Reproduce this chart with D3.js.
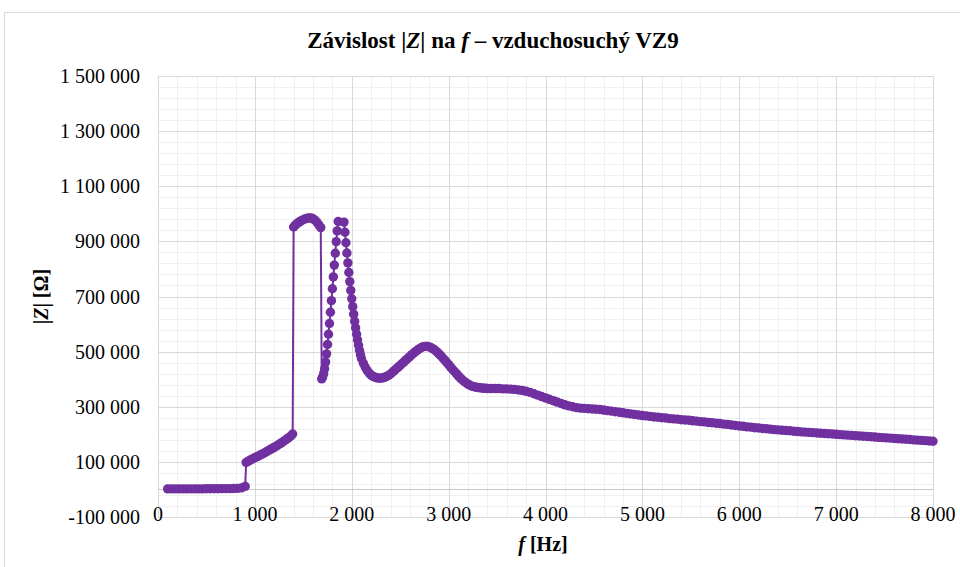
<!DOCTYPE html>
<html>
<head>
<meta charset="utf-8">
<script src="https://cdn.jsdelivr.net/npm/d3@7"></script>
<style>
  body { margin: 0; background: #fff; }
  text { white-space: pre; }
</style>
</head>
<body>
<svg></svg>
<script>
// frequency of each measurement [Hz]
const freqHz = [
  100, 140, 180, 220, 260, 300, 340, 380, 420, 460,
  500, 540, 580, 620, 660, 700, 740, 780, 820, 860,
  900,
  910, 930, 950, 970, 990, 1010, 1030, 1050, 1070, 1090,
  1110, 1130, 1150, 1170, 1190, 1210, 1230, 1250, 1270, 1290,
  1310, 1330, 1350, 1370, 1390,
  1400, 1420, 1440, 1460, 1480, 1500, 1520, 1540, 1560, 1580,
  1600, 1620, 1640, 1660, 1680,
  1690, 1700, 1710, 1720, 1730, 1740, 1750, 1760, 1770, 1780,
  1790, 1800, 1810, 1820, 1830, 1840, 1850, 1860,
  1920, 1930, 1940, 1950, 1960, 1970, 1980, 1990, 2000, 2010,
  2020, 2030, 2040, 2050, 2060, 2070, 2080, 2090, 2100,
  2120, 2140, 2160, 2180, 2200, 2220, 2240, 2260, 2280, 2300,
  2320, 2340, 2360, 2380, 2400, 2420, 2440, 2460, 2480, 2500,
  2520, 2540, 2560, 2580, 2600, 2620, 2640, 2660, 2680, 2700,
  2720, 2740, 2760, 2780, 2800, 2820, 2840, 2860, 2880, 2900,
  2920, 2940, 2960, 2980, 3000, 3020, 3040, 3060, 3080, 3100,
  3120, 3140, 3160, 3180, 3200, 3220, 3240, 3260, 3280, 3300,
  3320, 3340, 3360, 3380, 3400,
  3440, 3480, 3520, 3560, 3600, 3640, 3680, 3720, 3760, 3800,
  3840, 3880, 3920, 3960, 4000, 4040, 4080, 4120, 4160, 4200,
  4240, 4280, 4320, 4360, 4400, 4440, 4480, 4520, 4560, 4600,
  4640, 4680, 4720, 4760, 4800, 4840, 4880, 4920, 4960, 5000,
  5040, 5080, 5120, 5160, 5200, 5240, 5280, 5320, 5360, 5400,
  5440, 5480, 5520, 5560, 5600, 5640, 5680, 5720, 5760, 5800,
  5840, 5880, 5920, 5960, 6000, 6040, 6080, 6120, 6160, 6200,
  6240, 6280, 6320, 6360, 6400, 6440, 6480, 6520, 6560, 6600,
  6640, 6680, 6720, 6760, 6800, 6840, 6880, 6920, 6960, 7000,
  7040, 7080, 7120, 7160, 7200, 7240, 7280, 7320, 7360, 7400,
  7440, 7480, 7520, 7560, 7600, 7640, 7680, 7720, 7760, 7800,
  7840, 7880, 7920, 7960, 8000
]

// |Z| [Ohm], same order as freqHz
const impedance = [
  2000, 2000, 2000, 2000, 2000, 2000, 2000, 2000, 2000, 2000,
  2500, 2500, 2500, 2500, 3000, 3000, 3000, 3500, 4000, 5500,
  11000,
  98000, 102000, 106000, 110000, 113000, 117000, 120000, 124000, 127000, 131000,
  135000, 139000, 143000, 147000, 151000, 155000, 159000, 164000, 168000, 173000,
  178000, 183000, 188000, 194000, 201000,
  952000, 960000, 966000, 971000, 975000, 979000, 982000, 984000, 985000, 985000,
  982000, 977000, 970000, 960000, 950000,
  401000, 408000, 420000, 438000, 462000, 492000, 526000, 563000, 602000, 643000,
  685000, 728000, 771000, 814000, 857000, 899000, 938000, 972000,
  970000, 933000, 895000, 858000, 822000, 787000, 754000, 722000, 692000, 663000,
  636000, 610000, 586000, 563000, 542000, 523000, 505000, 489000, 475000,
  458000, 443000, 431000, 422000, 415000, 410000, 407000, 405000, 404000, 404000,
  405000, 407000, 410000, 414000, 419000, 425000, 431000, 438000, 444000, 450000,
  457000, 463000, 470000, 476000, 482000, 489000, 495000, 501000, 506000, 511000,
  515000, 518000, 519000, 519000, 517000, 514000, 510000, 505000, 499000, 492000,
  485000, 477000, 469000, 461000, 453000, 444000, 436000, 428000, 420000, 412000,
  405000, 398000, 392000, 387000, 382000, 378000, 375000, 373000, 371000, 370000,
  369000, 368000, 367000, 367000, 366000,
  366000, 366000, 366000, 365000, 365000, 364000, 363000, 361000, 359000, 356000,
  352000, 347000, 342000, 337000, 332000, 327000, 322000, 317000, 312000, 307000,
  303000, 300000, 297000, 295000, 294000, 293000, 292000, 291000, 290000, 288000,
  286000, 284000, 282000, 280000, 278000, 276000, 274000, 272000, 270000, 268000,
  267000, 265000, 263000, 262000, 260000, 259000, 257000, 256000, 255000, 253000,
  252000, 251000, 249000, 248000, 246000, 245000, 243000, 242000, 240000, 239000,
  237000, 236000, 234000, 232000, 230000, 229000, 227000, 226000, 224000, 223000,
  221000, 220000, 219000, 217000, 216000, 215000, 214000, 213000, 211000, 210000,
  209000, 208000, 207000, 206000, 205000, 204000, 203000, 202000, 201000, 200000,
  199000, 198000, 197000, 196000, 195000, 194000, 193000, 192000, 191000, 190000,
  189000, 188000, 187000, 186000, 185000, 184000, 183000, 182000, 181000, 180000,
  179000, 178000, 177000, 176000, 175000
]

const xTicks = [0, 1000, 2000, 3000, 4000, 5000, 6000, 7000, 8000]
const yTicks = [-100000, 100000, 300000, 500000, 700000, 900000, 1100000, 1300000, 1500000]

const width = 960
const height = 567
const plot = { left: 158, right: 933, top: 76, bottom: 517 }
const purple = '#7030a0'
const serif = 'Liberation Serif, Times New Roman, DejaVu Serif, serif'

const data = freqHz.map((f, i) => {
  return { f: f, z: impedance[i] }
})

const svg = d3.select('svg')
  .attr('width', width)
  .attr('height', height)
  .attr('font-family', serif)
  .style('display', 'block')

const x = d3.scaleLinear().domain([0, 8000]).range([plot.left, plot.right])
const y = d3.scaleLinear().domain([-100000, 1500000]).range([plot.bottom, plot.top])

const fmt = d3.formatLocale({
  decimal: ',',
  thousands: ' ',
  grouping: [3],
  currency: ['', ''],
  minus: '-'
}).format(',d')

// chart frame
svg.append('rect')
  .attr('x', 4.5)
  .attr('y', 12.5)
  .attr('width', 980)
  .attr('height', 580)
  .attr('fill', '#fff')
  .attr('stroke', '#d9d9d9')

// minor grid
const grid = svg.append('g')
grid.selectAll('.minor-x')
  .data(x.ticks(40))
  .enter().append('line')
  .attr('x1', (d) => Math.round(x(d)) + 0.5)
  .attr('x2', (d) => Math.round(x(d)) + 0.5)
  .attr('y1', plot.top)
  .attr('y2', plot.bottom)
  .attr('stroke', '#f0f0f0')
grid.selectAll('.minor-y')
  .data(d3.range(-100000, 1500001, 40000))
  .enter().append('line')
  .attr('x1', plot.left)
  .attr('x2', plot.right)
  .attr('y1', (d) => Math.round(y(d)) + 0.5)
  .attr('y2', (d) => Math.round(y(d)) + 0.5)
  .attr('stroke', '#f0f0f0')

// major grid
grid.selectAll('.major-x')
  .data(xTicks)
  .enter().append('line')
  .attr('x1', (d) => Math.round(x(d)) + 0.5)
  .attr('x2', (d) => Math.round(x(d)) + 0.5)
  .attr('y1', plot.top)
  .attr('y2', plot.bottom)
  .attr('stroke', '#d9d9d9')
grid.selectAll('.major-y')
  .data(yTicks)
  .enter().append('line')
  .attr('x1', plot.left)
  .attr('x2', plot.right)
  .attr('y1', (d) => Math.round(y(d)) + 0.5)
  .attr('y2', (d) => Math.round(y(d)) + 0.5)
  .attr('stroke', '#d9d9d9')

// horizontal axis line at zero
svg.append('line')
  .attr('x1', plot.left)
  .attr('x2', plot.right)
  .attr('y1', Math.round(y(0)) + 0.5)
  .attr('y2', Math.round(y(0)) + 0.5)
  .attr('stroke', '#c8c8c8')

// tick labels
svg.append('g')
  .selectAll('text')
  .data(yTicks)
  .enter().append('text')
  .attr('x', 140)
  .attr('y', (d) => y(d))
  .attr('dy', '0.35em')
  .attr('text-anchor', 'end')
  .attr('font-size', 20)
  .attr('fill', '#000')
  .text((d) => fmt(d))

svg.append('g')
  .selectAll('text')
  .data(xTicks)
  .enter().append('text')
  .attr('x', (d) => x(d))
  .attr('y', 521)
  .attr('text-anchor', 'middle')
  .attr('font-size', 20)
  .attr('fill', '#000')
  .text((d) => fmt(d))

// series line and markers
const line = d3.line()
  .x((d) => x(d.f))
  .y((d) => y(d.z))

svg.append('path')
  .datum(data)
  .attr('d', line)
  .attr('fill', 'none')
  .attr('stroke', purple)
  .attr('stroke-width', 2)

svg.append('g')
  .selectAll('circle')
  .data(data)
  .enter().append('circle')
  .attr('cx', (d) => x(d.f))
  .attr('cy', (d) => y(d.z))
  .attr('r', 4.7)
  .attr('fill', purple)

// title
const title = svg.append('text')
  .attr('x', 493)
  .attr('y', 48)
  .attr('text-anchor', 'middle')
  .attr('font-size', 23)
  .attr('font-weight', 'bold')
title.append('tspan').text('Závislost |')
title.append('tspan').attr('font-style', 'italic').text('Z')
title.append('tspan').text('| na ')
title.append('tspan').attr('font-style', 'italic').text('f')
title.append('tspan').text(' – vzduchosuchý VZ9')

// axis titles
const yTitle = svg.append('text')
  .attr('transform', `translate(48, ${(plot.top + plot.bottom) / 2}) rotate(-90)`)
  .attr('text-anchor', 'middle')
  .attr('font-size', 20)
  .attr('font-weight', 'bold')
yTitle.append('tspan').text('|')
yTitle.append('tspan').attr('font-style', 'italic').text('Z')
yTitle.append('tspan').text('| [Ω]')

const xTitle = svg.append('text')
  .attr('x', 543)
  .attr('y', 551)
  .attr('text-anchor', 'middle')
  .attr('font-size', 20)
  .attr('font-weight', 'bold')
xTitle.append('tspan').attr('font-style', 'italic').text('f')
xTitle.append('tspan').text(' [Hz]')
</script>
</body>
</html>
